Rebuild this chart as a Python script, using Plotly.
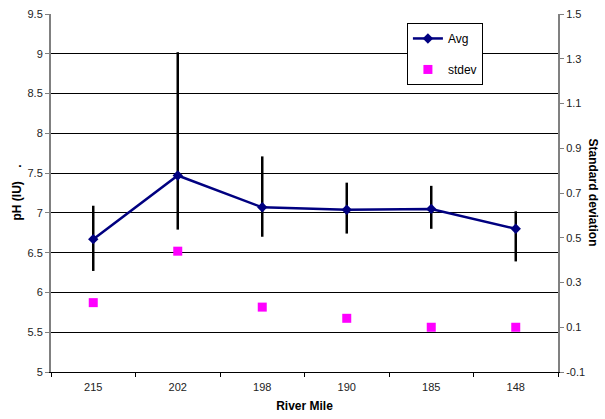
import plotly.graph_objects as go

river_mile = ["215", "202", "198", "190", "185", "148"]
ph_avg = [6.67, 7.47, 7.07, 7.04, 7.05, 6.80]
ph_max = [7.09, 9.02, 7.71, 7.38, 7.34, 7.02]
ph_min = [6.27, 6.79, 6.70, 6.74, 6.80, 6.39]
ph_stdev = [0.21, 0.44, 0.19, 0.14, 0.10, 0.10]

left_ticks = [5, 5.5, 6, 6.5, 7, 7.5, 8, 8.5, 9, 9.5]
right_ticks = [-0.1, 0.1, 0.3, 0.5, 0.7, 0.9, 1.1, 1.3, 1.5]
right_labels = ["-0.1", "0.1", "0.3", "0.5", "0.7", "0.9", "1.1", "1.3", "1.5"]

FONT = "Liberation Sans, Arial, sans-serif"

fig = go.Figure()
fig.add_trace(go.Scatter(
    x=river_mile, y=ph_avg, name="Avg", mode="lines+markers",
    line=dict(color="#000080", width=2.5),
    marker=dict(symbol="diamond", size=8, color="#000080"),
    error_y=dict(type="data", symmetric=False,
                 array=[h - a for h, a in zip(ph_max, ph_avg)],
                 arrayminus=[a - l for a, l in zip(ph_avg, ph_min)],
                 color="black", thickness=2.5, width=0),
    legendgroup="a",
))
fig.add_trace(go.Scatter(
    x=river_mile, y=ph_stdev, name="stdev", mode="markers", yaxis="y2",
    marker=dict(symbol="square", size=9, color="#FF00FF"),
    legendgroup="b",
))

fig.update_layout(
    width=605, height=419,
    margin=dict(l=51, r=47, t=14, b=47, autoexpand=False),
    paper_bgcolor="white", plot_bgcolor="white",
    font=dict(family=FONT, size=11, color="#222"),
    showlegend=True,
    legend=dict(x=0.702, y=0.975, xanchor="left", yanchor="top",
                bgcolor="white", bordercolor="black", borderwidth=1,
                font=dict(size=12, color="black"), tracegroupgap=12,
                traceorder="grouped"),
    xaxis=dict(type="category", range=[-0.5, 5.5], autorange=False, showgrid=False,
               automargin=False,
               showline=True, linecolor="black",
               linewidth=1, ticks="outside", tickson="boundaries", ticklen=4,
               tickcolor="black", tickfont=dict(size=11, color="#222"),
               ticklabelstandoff=5,
               title=dict(text="<b>River Mile</b>", font=dict(size=12, color="black"), standoff=9)),
    yaxis=dict(range=[5, 9.5], tickvals=left_ticks, showgrid=True, gridcolor="black",
               automargin=False,
               gridwidth=1, showline=True, linecolor="#808080", linewidth=2,
               ticks="outside", ticklen=4, tickcolor="#808080",
               tickfont=dict(size=11, color="#222"), zeroline=False),
    yaxis2=dict(range=[-0.1, 1.5], overlaying="y", side="right", tickvals=right_ticks,
                automargin=False,
                ticktext=right_labels, showgrid=False, showline=True, linecolor="#808080",
                linewidth=2, ticks="outside", ticklen=4, tickcolor="#808080",
                tickfont=dict(size=11, color="#222"), zeroline=False),
    annotations=[
        dict(text="<b>pH (IU)    .</b>", xref="paper", yref="paper", x=-0.068, y=0.5,
             xanchor="center", yanchor="middle", textangle=-90, showarrow=False,
             font=dict(size=12, color="black")),
        dict(text="<b>Standard deviation</b>", xref="paper", yref="paper", x=1.07, y=0.5,
             xanchor="center", yanchor="middle", textangle=90, showarrow=False,
             font=dict(size=12, color="black")),
    ],
)

fig.write_html("out.html")
